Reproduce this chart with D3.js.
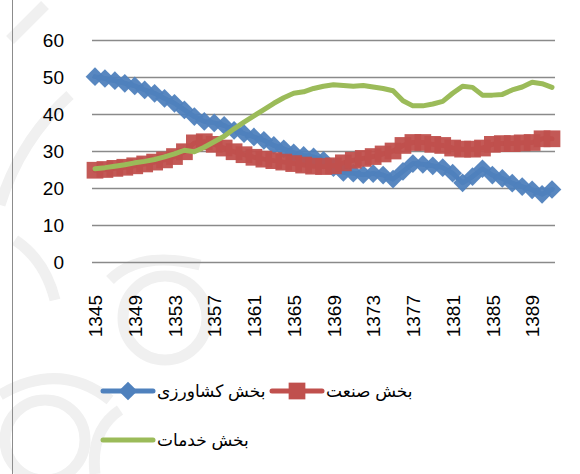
<!DOCTYPE html>
<html>
<head>
<meta charset="utf-8">
<script src="https://cdn.jsdelivr.net/npm/d3@7"></script>
<style>
  body { margin: 0; background: #fff; }
  svg { display: block; }
</style>
</head>
<body>
<div id="chart"></div>
<script>
// data
const years = [1345, 1346, 1347, 1348, 1349, 1350, 1351, 1352, 1353, 1354, 1355, 1356,
  1357, 1358, 1359, 1360, 1361, 1362, 1363, 1364, 1365, 1366, 1367, 1368, 1369, 1370,
  1371, 1372, 1373, 1374, 1375, 1376, 1377, 1378, 1379, 1380, 1381, 1382, 1383, 1384,
  1385, 1386, 1387, 1388, 1389, 1390, 1391];

const agriculture = [50.1, 49.6, 49, 48.3, 47.6, 46.5, 45.6, 44.2, 42.9, 41.1, 39.3, 38,
  37.6, 36.9, 35.6, 34.7, 33.8, 32.9, 31.5, 30.6, 29.5, 28.8, 28.4, 27.5, 25.5, 24.2,
  24, 23.6, 23.9, 23.5, 22.4, 24.5, 26.6, 26.4, 26, 25.5, 24, 21.4, 23.1, 25.2,
  23.5, 22.6, 21.3, 20.4, 19.5, 18.3, 19.6];

const industry = [24.8, 25, 25.3, 25.6, 26, 26.5, 27, 27.6, 28.5, 29.8, 32.2, 32.5,
  31.8, 30.8, 29.8, 29, 28.3, 27.8, 27.4, 27, 26.6, 26.2, 25.9, 25.8, 26, 26.8,
  27.5, 28, 28.5, 29.2, 30, 31.5, 32.3, 32.3, 31.8, 31.5, 30.8, 30.5, 30.5, 30.8,
  31.8, 32, 32, 32.2, 32.3, 33.3, 33.3];

const services = [25.2, 25.5, 25.9, 26.3, 26.8, 27.2, 27.7, 28.4, 29.2, 30.2, 29.8, 31,
  32.5, 34, 36, 37.8, 39.5, 41.2, 42.9, 44.4, 45.6, 46, 46.9, 47.5, 47.9, 47.7,
  47.5, 47.7, 47.3, 46.9, 46.3, 43.6, 42.2, 42.2, 42.7, 43.4, 45.6, 47.5, 47.2, 45.1,
  45.1, 45.3, 46.5, 47.3, 48.6, 48.2, 47.2];

const yTicks = [0, 10, 20, 30, 40, 50, 60];
const xTickLabels = [1345, 1349, 1353, 1357, 1361, 1365, 1369, 1373, 1377, 1381, 1385, 1389];
const seriesNames = ["بخش کشاورزی", "بخش صنعت", "بخش خدمات"];
const seriesColors = ["#4F81BD", "#C0504D", "#9BBB59"];

const width = 580, height = 474;
const font = "'Liberation Sans', Arial, 'DejaVu Sans', sans-serif";

const svg = d3.select("#chart")
  .append("svg")
  .attr("width", width)
  .attr("height", height)
  .style("font-family", font);

// faint watermark behind the chart (rough)
const wm = svg.append("g")
  .attr("fill", "none")
  .attr("stroke", "#f0f0f0")
  .attr("stroke-width", 11);
wm.append("path").attr("d", "M70,95 Q20,140 0,205");
wm.append("path").attr("d", "M10,40 L45,5");
wm.append("path").attr("d", "M15,240 Q45,260 55,300");
wm.append("circle").attr("cx", 165).attr("cy", 318).attr("r", 42);
wm.append("path").attr("d", "M110,280 Q140,250 200,265");
wm.append("circle").attr("cx", 45).attr("cy", 440).attr("r", 40);
wm.append("path").attr("d", "M0,395 Q60,360 110,400");
wm.append("path").attr("d", "M95,474 Q90,430 120,410");

// chart border on the left
svg.append("line")
  .attr("x1", 12.5).attr("x2", 12.5)
  .attr("y1", 0).attr("y2", height)
  .attr("stroke", "#8c8c8c");

const x = d3.scalePoint().domain(years).range([95, 552]);
const y = d3.scaleLinear().domain([0, 60]).range([262, 40]);

// gridlines + y labels
const yAxis = d3.axisLeft(y)
  .tickValues(yTicks)
  .tickSize(-(555 - 92))
  .tickPadding(30);

const gy = svg.append("g")
  .attr("transform", "translate(92,0)")
  .call(yAxis);
gy.select(".domain").remove();
gy.selectAll(".tick line")
  .attr("stroke", "#8a8a8a")
  .attr("stroke-width", 1.6);
gy.selectAll(".tick text")
  .attr("x", -28)
  .attr("fill", "#000")
  .style("font-size", "19px")
  .style("font-family", font);

// x labels (rotated)
const xAxis = d3.axisBottom(x)
  .tickValues(xTickLabels)
  .tickSize(0);

const gx = svg.append("g")
  .attr("transform", "translate(0,262)")
  .call(xAxis);
gx.select(".domain").remove();
gx.selectAll(".tick text")
  .attr("transform", "rotate(-90)")
  .attr("text-anchor", "end")
  .attr("x", -33)
  .attr("y", 0)
  .attr("dy", "0.35em")
  .attr("fill", "#000")
  .style("font-size", "19px")
  .style("font-family", font);

const line = d3.line()
  .x((d, i) => x(years[i]))
  .y(d => y(d));

const diamond = d3.symbol(d3.symbolSquare, 175);
const square = d3.symbol(d3.symbolSquare, 280);

// each series drawn in order: line then its markers (Excel style)
function drawSeries(values, color, marker, rot) {
  const g = svg.append("g");
  g.append("path")
    .datum(values)
    .attr("fill", "none")
    .attr("stroke", color)
    .attr("stroke-width", 5)
    .attr("stroke-linejoin", "round")
    .attr("stroke-linecap", "round")
    .attr("d", line);
  if (!marker) return;
  g.selectAll(".mk")
    .data(values)
    .join("path")
    .attr("class", "mk")
    .attr("d", marker)
    .attr("transform", (d, i) => `translate(${x(years[i])},${y(d)}) rotate(${rot})`)
    .attr("fill", color)
    .attr("fill-opacity", 0.95);
}

drawSeries(agriculture, seriesColors[0], diamond, 45);
drawSeries(industry, seriesColors[1], square, 0);
drawSeries(services, seriesColors[2], null, 0);

// legend
const legendItems = [
  { name: seriesNames[0], color: seriesColors[0], marker: diamond, rot: 45, x: 103, y: 391 },
  { name: seriesNames[1], color: seriesColors[1], marker: square, rot: 0, x: 272, y: 391 },
  { name: seriesNames[2], color: seriesColors[2], marker: null, rot: 0, x: 103, y: 440 }
];

const lg = svg.append("g").attr("class", "legend");
legendItems.forEach(it => {
  const g = lg.append("g").attr("transform", `translate(${it.x},${it.y})`);
  g.append("line")
    .attr("x1", 0).attr("x2", 50)
    .attr("y1", 0).attr("y2", 0)
    .attr("stroke", it.color)
    .attr("stroke-width", 5)
    .attr("stroke-linecap", "round");
  if (it.marker) {
    g.append("path")
      .attr("d", it.marker)
      .attr("transform", `translate(25,0) rotate(${it.rot})`)
      .attr("fill", it.color);
  }
  g.append("text")
    .attr("x", 54)
    .attr("y", 0)
    .attr("dy", "0.35em")
    .attr("fill", "#000")
    .style("font-size", "17px")
    .text(it.name);
});
</script>
</body>
</html>
